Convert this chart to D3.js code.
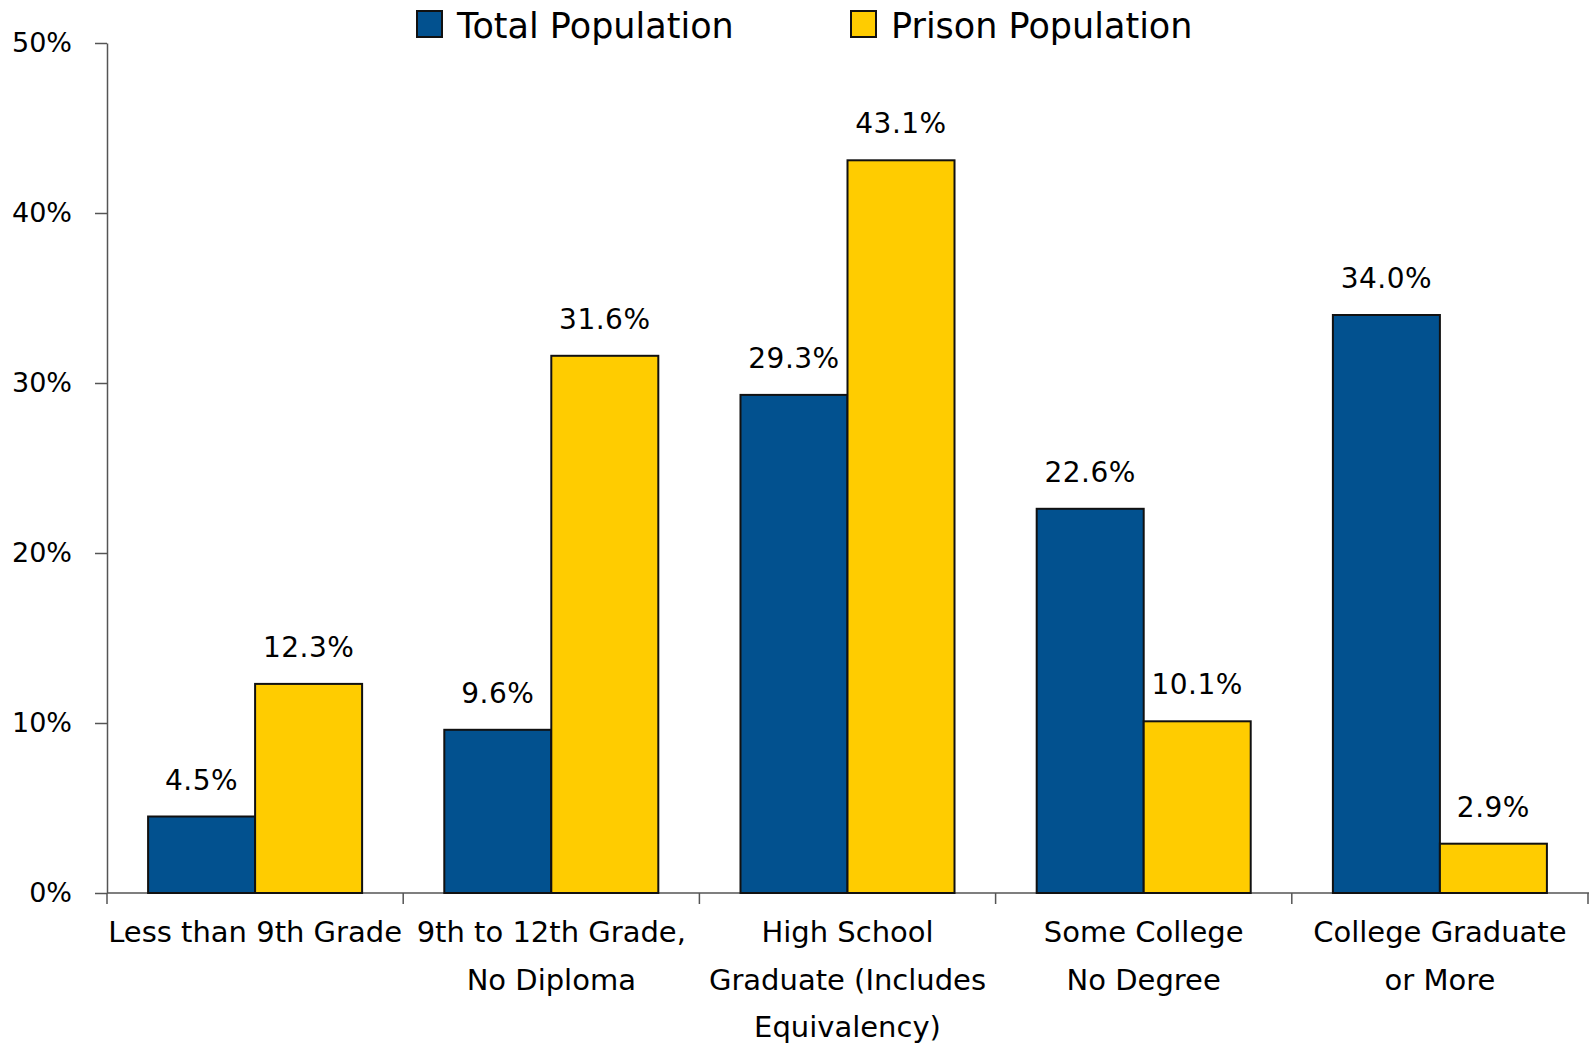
<!DOCTYPE html>
<html>
<head>
<meta charset="utf-8">
<script src="https://cdn.jsdelivr.net/npm/d3@7"></script>
<style>
  html, body { margin: 0; padding: 0; background: #fff; }
  svg { display: block; font-family: "DejaVu Sans", sans-serif; }
</style>
</head>
<body>
<div id="chart"></div>
<script>
const categories = [
    ["Less than 9th Grade"],
    ["9th to 12th Grade,", "No Diploma"],
    ["High School", "Graduate (Includes", "Equivalency)"],
    ["Some College", "No Degree"],
    ["College Graduate", "or More"]
];
const seriesNames = ["Total Population", "Prison Population"];
const totalPop = [4.5, 9.6, 29.3, 22.6, 34.0];
const prisonPop = [12.3, 31.6, 43.1, 10.1, 2.9];
const yTicks = [0, 10, 20, 30, 40, 50];
const colors = ["#02518f", "#ffcc00"];

const width = 1589, height = 1044;
const svg = d3.select("#chart").append("svg")
    .attr("width", width)
    .attr("height", height);

const catKeys = categories.map((c, i) => i);
const x = d3.scaleBand()
    .domain(catKeys)
    .range([107, 1588])
    .padding(0);

const xInner = d3.scaleBand()
    .domain([0, 1])
    .range([0, x.bandwidth()])
    .paddingInner(0)
    .paddingOuter(0.384);

const y = d3.scaleLinear()
    .domain([0, 50])
    .range([893, 43]);

// y axis
const yAxis = svg.append("g")
    .attr("transform", "translate(107,0)")
    .call(d3.axisLeft(y)
        .tickValues(yTicks)
        .tickSize(12)
        .tickSizeOuter(0)
        .tickPadding(23)
        .tickFormat(d => d + "%"));
yAxis.select(".domain").attr("stroke", "#555").attr("stroke-width", 1.5);
yAxis.selectAll(".tick line").attr("stroke", "#555").attr("stroke-width", 1.5);
yAxis.selectAll(".tick text")
    .attr("fill", "#000")
    .style("font-family", "DejaVu Sans, sans-serif")
    .style("font-size", "27px");

// x axis baseline + ticks at category boundaries
svg.append("line")
    .attr("x1", 107).attr("x2", width)
    .attr("y1", y(0)).attr("y2", y(0))
    .attr("stroke", "#555").attr("stroke-width", 1.5);
const bounds = catKeys.map(k => x(k)).concat([x.range()[1]]);
svg.append("g").selectAll("line")
    .data(bounds)
    .enter()
    .append("line")
    .attr("x1", d => d).attr("x2", d => d)
    .attr("y1", y(0)).attr("y2", y(0) + 11)
    .attr("stroke", "#555").attr("stroke-width", 1.5);

// category labels
const catLabels = svg.append("g").selectAll("text")
    .data(categories)
    .enter()
    .append("text")
    .attr("text-anchor", "middle")
    .attr("font-size", 29)
    .attr("fill", "#000");
catLabels.each(function (lines, i) {
    const t = d3.select(this);
    lines.forEach((line, j) => {
        t.append("tspan")
            .attr("x", x(i) + x.bandwidth() / 2)
            .attr("y", 942 + j * 47.5)
            .text(line);
    });
});

// bars
const rows = categories.map((c, i) => [totalPop[i], prisonPop[i]]);
const groups = svg.append("g").selectAll("g")
    .data(rows)
    .enter()
    .append("g")
    .attr("transform", (d, i) => `translate(${x(i)},0)`);

groups.selectAll("rect")
    .data(d => d)
    .enter()
    .append("rect")
    .attr("x", (d, j) => xInner(j))
    .attr("width", xInner.bandwidth())
    .attr("y", d => y(d))
    .attr("height", d => y(0) - y(d))
    .attr("fill", (d, j) => colors[j])
    .attr("stroke", "#111")
    .attr("stroke-width", 2);

groups.selectAll("text")
    .data(d => d)
    .enter()
    .append("text")
    .attr("x", (d, j) => xInner(j) + xInner.bandwidth() / 2)
    .attr("y", d => y(d) - 27)
    .attr("text-anchor", "middle")
    .attr("font-size", 28)
    .attr("letter-spacing", 0.5)
    .attr("fill", "#000")
    .text(d => d.toFixed(1) + "%");

// legend
const legendX = [417, 851];
const legend = svg.append("g").selectAll("g")
    .data(seriesNames)
    .enter()
    .append("g")
    .attr("transform", (d, i) => `translate(${legendX[i]},11)`);
legend.append("rect")
    .attr("width", 25).attr("height", 26)
    .attr("fill", (d, i) => colors[i])
    .attr("stroke", "#111")
    .attr("stroke-width", 2);
legend.append("text")
    .attr("x", 40)
    .attr("y", 27)
    .attr("font-size", 35)
    .attr("fill", "#000")
    .text(d => d);
</script>
</body>
</html>
